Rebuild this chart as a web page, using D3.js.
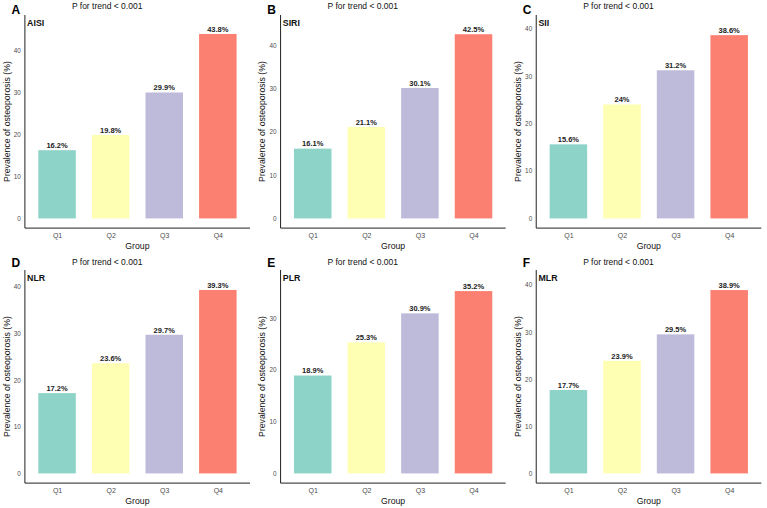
<!DOCTYPE html>
<html>
<head>
<meta charset="utf-8">
<script src="https://cdn.jsdelivr.net/npm/d3@7"></script>
<style>
  html, body { margin: 0; padding: 0; background: #fff; }
  svg { display: block; font-family: "Liberation Sans", Arial, sans-serif; }
</style>
</head>
<body>
<svg id="chart" width="767" height="508"></svg>
<script>
// ---- data ----
const groups = ["Q1", "Q2", "Q3", "Q4"];
const panelLetters = ["A", "B", "C", "D", "E", "F"];
const indexNames = ["AISI", "SIRI", "SII", "NLR", "PLR", "MLR"];
const aisiValues = [16.2, 19.8, 29.9, 43.8];
const siriValues = [16.1, 21.1, 30.1, 42.5];
const siiValues  = [15.6, 24, 31.2, 38.6];
const nlrValues  = [17.2, 23.6, 29.7, 39.3];
const plrValues  = [18.9, 25.3, 30.9, 35.2];
const mlrValues  = [17.7, 23.9, 29.5, 38.9];
const yTickValues = [0, 10, 20, 30, 40];
const trendText = "P for trend < 0.001";
const xTitle = "Group";
const yTitle = "Prevalence of osteoporosis (%)";
const barColors = ["#8DD3C7", "#FFFFB3", "#BEBADA", "#FB8072"];

const seriesList = [aisiValues, siriValues, siiValues, nlrValues, plrValues, mlrValues];

// ---- layout ----
const svg = d3.select("#chart");
const panelW = 767 / 3;
const rowH = 255;
const plotLeft = 24.9, plotRight = 250, plotTop = 15, plotBottom = 228.1;

seriesList.forEach((vals, i) => {
  const col = i % 3, row = Math.floor(i / 3);
  const g = svg.append("g").attr("transform", `translate(${col * panelW},${row * rowH})`);

  const M = d3.max(vals) + 2.2;
  const y = d3.scaleLinear().domain([-0.05 * M, 1.05 * M]).range([plotBottom, plotTop]);
  const xPos = d3.scaleLinear().domain([0.4, 4.6]).range([plotLeft, plotRight]);
  const unit = xPos(2) - xPos(1);
  const barW = unit * 0.7;

  const data = groups.map((gname, k) => ({ g: gname, v: vals[k], k: k }));

  // bars
  g.selectAll("rect.bar").data(data).enter().append("rect")
    .attr("class", "bar")
    .attr("x", d => xPos(d.k + 1) - barW / 2)
    .attr("width", barW)
    .attr("y", d => y(d.v))
    .attr("height", d => y(0) - y(d.v))
    .attr("fill", (d, k) => barColors[k]);

  // value labels
  g.selectAll("text.val").data(data).enter().append("text")
    .attr("class", "val")
    .attr("x", d => xPos(d.k + 1))
    .attr("y", d => y(d.v) - 2.2)
    .attr("text-anchor", "middle")
    .attr("font-size", 7.5)
    .attr("font-weight", "bold")
    .attr("fill", "#222")
    .text(d => d.v + "%");

  // y axis
  const ticks = yTickValues.filter(t => t <= 1.05 * M);
  const yAxis = d3.axisLeft(y).tickValues(ticks).tickSize(0).tickPadding(4).tickFormat(d3.format("d"));
  const ya = g.append("g").attr("transform", `translate(${plotLeft},0)`).call(yAxis);
  ya.select(".domain").attr("stroke", "#222").attr("stroke-width", 1).attr("d", `M0,${plotTop}V${plotBottom}`);
  ya.selectAll("text").attr("font-size", 6.4).attr("fill", "#4d4d4d").attr("font-family", "Liberation Sans, Arial, sans-serif");

  // x axis
  const xAxis = d3.axisBottom(xPos).tickValues([1, 2, 3, 4]).tickSize(0).tickPadding(4.5)
    .tickFormat(d => groups[d - 1]);
  const xa = g.append("g").attr("transform", `translate(0,${plotBottom})`).call(xAxis);
  xa.select(".domain").attr("stroke", "#222").attr("stroke-width", 1).attr("d", `M${plotLeft},0H${plotRight}`);
  xa.selectAll("text").attr("font-size", 7).attr("fill", "#4d4d4d").attr("font-family", "Liberation Sans, Arial, sans-serif");

  // axis titles
  g.append("text")
    .attr("x", (plotLeft + plotRight) / 2)
    .attr("y", 248.8)
    .attr("text-anchor", "middle")
    .attr("font-size", 8.7)
    .attr("fill", "#111")
    .text(xTitle);
  g.append("text")
    .attr("transform", `translate(9.6,${(plotTop + plotBottom) / 2}) rotate(-90)`)
    .attr("text-anchor", "middle")
    .attr("font-size", 8.7)
    .attr("fill", "#111")
    .text(yTitle);

  // panel letter
  g.append("text")
    .attr("x", 11.5)
    .attr("y", row === 0 ? 13.6 : 11.5)
    .attr("font-size", 12)
    .attr("font-weight", "bold")
    .attr("fill", "#000")
    .text(panelLetters[i]);

  // trend title
  g.append("text")
    .attr("x", plotLeft + 47)
    .attr("y", row === 0 ? 9 : 10)
    .attr("font-size", 8.5)
    .attr("fill", "#111")
    .text(trendText);

  // index name
  g.append("text")
    .attr("x", plotLeft + 2.2)
    .attr("y", 26)
    .attr("font-size", 8.8)
    .attr("font-weight", "bold")
    .attr("fill", "#111")
    .text(indexNames[i]);
});
</script>
</body>
</html>
